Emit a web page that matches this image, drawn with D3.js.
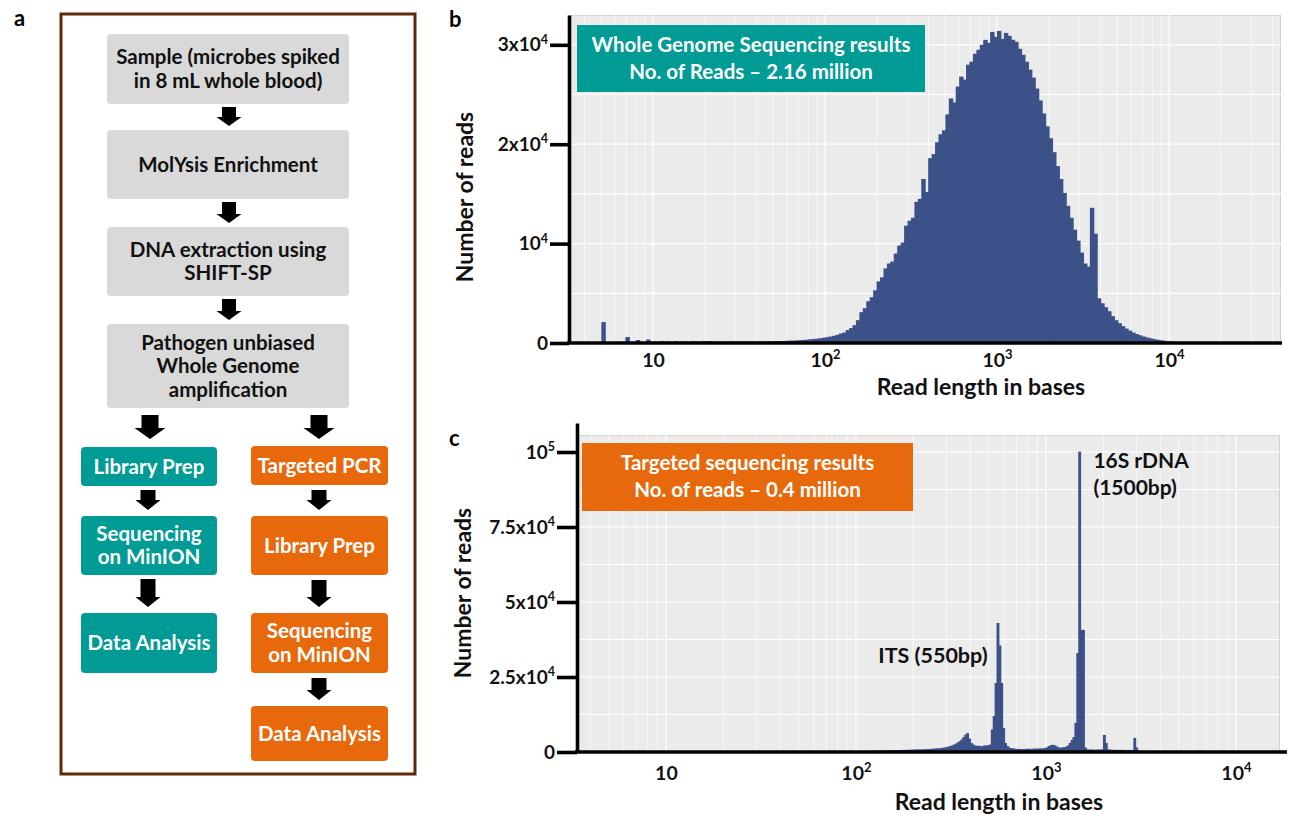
<!DOCTYPE html>
<html><head><meta charset="utf-8">
<script src="https://cdn.jsdelivr.net/npm/d3@7"></script>
<style>
body{margin:0;background:#fff}
svg{display:block}
text{font-family:Lato,"Open Sans",sans-serif;font-weight:700}
</style>
</head><body>
<svg id="fig" width="1290" height="815"></svg>
<script>
// ---------------- DATA ----------------
const sharedSteps = [["Sample (microbes spiked","in 8 mL whole blood)"],["MolYsis Enrichment"],["DNA extraction using","SHIFT-SP"],["Pathogen unbiased","Whole Genome","amplification"]];
const wgsSteps = [["Library Prep"],["Sequencing","on MinION"],["Data Analysis"]];
const targetedSteps = [["Targeted PCR"],["Library Prep"],["Sequencing","on MinION"],["Data Analysis"]];

// Panel b: whole genome sequencing read-length histogram (log10 bins)
const wgsBinStartLog = 0.50;
const wgsBinWidthLog = 0.02;
const wgsCounts = [
  0,0,0,0,0,0,0,0,0,0,
  2100,0,0,0,120,0,0,600,0,0,
  300,0,0,350,0,150,0,200,0,180,
  0,200,0,150,180,0,200,150,0,200,
  150,180,0,170,150,160,0,150,170,150,
  160,150,170,160,140,150,160,150,170,160,
  180,190,200,210,230,240,260,280,300,330,
  370,400,430,470,520,580,650,720,820,950,
  1050,1300,1500,1800,2300,3100,3500,4200,4600,5300,
  6200,6600,7500,8000,8200,9000,9800,10100,11800,12300,
  12600,14200,14500,16500,15200,18600,19000,20200,21000,21400,
  23000,24600,24200,25800,26800,26500,28000,28300,29100,29500,
  30000,30500,30200,31300,30800,31400,30600,31200,30900,30500,
  30300,29600,29000,28300,27500,26700,25600,24400,23100,21800,
  20600,19200,17800,16500,15100,13800,12600,11400,10300,9100,
  8000,7700,13600,11000,4500,4000,3600,3200,2700,2300,
  2000,1700,1450,1250,1050,900,780,650,560,480,
  400,330,280,230,190,150,120,100,80,70,
  60,50,45,40,35,30,25,22,20,18,
  15,14,12,10,9,8,7,6,5,5,
  4,4,3,3,2,2,2,1
];
const wgsYTicks = [0, 10000, 20000, 30000];
const wgsYLabels = [["0",""],["10","4"],["2x10","4"],["3x10","4"]];
const wgsBoxLines = ["Whole Genome Sequencing results","No. of Reads \u2013 2.16 million"];

// Panel c: targeted sequencing read-length histogram (log10 bins)
const tsBinStartLog = 0.50;
const tsBinWidthLog = 0.01;
const tsCounts = [
  0,0,0,0,0,0,0,0,0,0,0,0,0,0,0,0,0,0,0,300,
  0,0,0,0,0,0,0,150,0,0,0,0,0,0,100,0,0,0,0,0,
  100,0,0,0,0,100,0,0,0,0,100,0,0,0,100,0,0,100,0,0,
  0,100,0,0,100,0,0,100,0,0,100,0,100,0,0,100,0,100,0,0,
  100,0,100,0,100,0,100,0,100,0,100,0,100,0,100,0,100,0,100,0,
  100,100,90,100,110,100,90,100,100,110,100,90,100,110,100,100,90,100,110,100,
  100,90,110,100,100,120,100,110,100,120,
  100,120,110,150,110,130,160,140,170,150,180,160,190,170,200,210,190,220,240,230,
  260,280,300,290,320,340,330,360,380,370,400,420,410,440,460,480,500,520,550,580,
  600,620,650,630,680,700,720,700,750,780,800,820,850,830,880,900,950,980,1000,1050,
  1100,1150,1200,1250,1300,1400,1500,1600,1800,2000,2200,2500,2800,3200,3600,4200,5000,5800,6300,4500,
  3000,2500,2200,2000,2100,1900,2000,2200,2100,2300,2500,7500,12000,23000,43000,35500,23000,8000,3000,2000,
  1500,1300,1200,1100,1000,1050,1000,950,1000,1050,1100,1000,1050,1100,1150,1100,1200,1150,1250,1300,
  1600,2000,2300,2400,2200,1800,1500,1400,1500,1600,1800,2200,3000,4000,5000,9700,33000,100100,40700,40700,
  1500,900,800,850,800,750,800,850,800,900,5700,3000,900,800,750,700,750,700,680,700,
  700,650,680,700,650,600,4700,1500,500,400,350,300,300,250,200,200,150,150,120,100,
  100,100,80,80,60,60,50,50,40,40,30,30,30,20,20,20,20,10,10,10,
  10,8,8,6,6,5,5,4,4,3,3,3,2,2,2,2,1,1,1,1,0,0,0,0,0,0,0,0,0,0,0,0,0,0,0,0,0,0,0,0,0,0,0,0
];
const tsYTicks = [0, 25000, 50000, 75000, 100000];
const tsYLabels = [["0",""],["2.5x10","4"],["5x10","4"],["7.5x10","4"],["10","5"]];
const tsBoxLines = ["Targeted sequencing results","No. of reads \u2013 0.4 million"];
const tsPeakLabels = [{lines:["ITS (550bp)"], at:550}, {lines:["16S rDNA","(1500bp)"], at:1500}];

const xTicks = [10, 100, 1000, 10000];
const xLabels = [["10",""],["10","2"],["10","3"],["10","4"]];

// ---------------- STYLE ----------------
const TEAL = "#009b94", ORANGE = "#e8690b", GREYBOX = "#d9d9d9", BAR = "#3d5189", PANEL = "#ebebeb";

const svg = d3.select("#fig");

function supText(sel, base, exp, supSize) {
  sel.text(null);
  sel.append("tspan").text(base);
  if (exp) sel.append("tspan").attr("dy", -7.5).attr("font-size", supSize).text(exp);
}

// ---------------- PANEL A ----------------
svg.append("text").attr("x", 14).attr("y", 26).attr("font-size", 22).text("a");
svg.append("rect").attr("x", 61).attr("y", 14).attr("width", 354).attr("height", 760)
  .attr("fill", "none").attr("stroke", "#5e2a0c").attr("stroke-width", 3);

function drawBox(x0, x1, y0, y1, fill, lines, color) {
  svg.append("rect").attr("x", x0).attr("y", y0).attr("width", x1 - x0).attr("height", y1 - y0)
    .attr("rx", 4).attr("fill", fill);
  const cy = (y0 + y1) / 2, lh = 23.5;
  lines.forEach((l, i) => {
    svg.append("text").attr("x", (x0 + x1) / 2).attr("y", cy + (i - (lines.length - 1) / 2) * lh)
      .attr("dy", "0.35em").attr("text-anchor", "middle").attr("font-size", 20.5)
      .attr("fill", color).text(l);
  });
}
function drawArrow(cx, y0, y1, shaftW, headW, headH) {
  const p = [[cx - shaftW/2, y0],[cx + shaftW/2, y0],[cx + shaftW/2, y1 - headH],[cx + headW/2, y1 - headH],
             [cx, y1],[cx - headW/2, y1 - headH],[cx - shaftW/2, y1 - headH]];
  svg.append("path").attr("d", d3.line()(p) + "Z").attr("fill", "#000");
}
const sharedY = [[34,104],[130,199],[227,296],[324,408]];
sharedSteps.forEach((s, i) => {
  drawBox(107, 349, sharedY[i][0], sharedY[i][1], GREYBOX, s, "#111");
  if (i > 0) drawArrow(229, sharedY[i-1][1] + 3, sharedY[i][0] - 4, 14, 25, 9);
});
const wgsY = [[447,486],[516,575],[613,673]];
const tgY = [[446,485],[516,575],[613,673],[706,761]];
drawArrow(150, 415, 439, 17, 31, 11);
drawArrow(319, 415, 439, 17, 31, 11);
wgsSteps.forEach((s, i) => {
  drawBox(81, 217, wgsY[i][0], wgsY[i][1], TEAL, s, "#fff");
  if (i > 0) drawArrow(148, wgsY[i-1][1] + 4, wgsY[i][0] - 6, 15, 25, 10);
});
targetedSteps.forEach((s, i) => {
  drawBox(251, 388, tgY[i][0], tgY[i][1], ORANGE, s, "#fff");
  if (i > 0) drawArrow(319, tgY[i-1][1] + 5, tgY[i][0] - 6, 15, 25, 10);
});

// ---------------- HISTOGRAM PANELS ----------------
function histPanel(o) {
  const x = d3.scaleLog().domain(o.xDomain).range([o.left, o.right]);
  const y = d3.scaleLinear().domain(o.yDomain).range([o.bottom, o.axisTop]);
  const g = svg.append("g");
  // background
  g.append("rect").attr("x", o.left).attr("y", o.bgTop).attr("width", o.right - o.left).attr("height", o.bottom - o.bgTop).attr("fill", PANEL);
  g.append("line").attr("x1", o.left).attr("x2", o.right).attr("y1", o.bgTop + 0.5).attr("y2", o.bgTop + 0.5).attr("stroke", "#d6d6d6");
  g.append("line").attr("x1", o.right - 0.5).attr("x2", o.right - 0.5).attr("y1", o.bgTop).attr("y2", o.bottom).attr("stroke", "#cfcfcf");
  // grid
  const vgrid = [];
  for (let e = 0; e <= 5; e++) for (let k = 1; k <= 9; k++) {
    const v = k * Math.pow(10, e);
    if (v > o.xDomain[0] && v < o.xDomain[1]) vgrid.push(v);
  }
  g.selectAll(".vg").data(vgrid).join("line")
    .attr("x1", d => x(d)).attr("x2", d => x(d)).attr("y1", o.bgTop).attr("y2", o.bottom)
    .attr("stroke", "#fff").attr("stroke-width", d => (Math.log10(d) % 1 === 0 ? 1.4 : 0.8)).attr("opacity", 0.85);
  g.selectAll(".hg").data(o.hGrid).join("line")
    .attr("x1", o.left).attr("x2", o.right).attr("y1", d => y(d)).attr("y2", d => y(d))
    .attr("stroke", "#fff").attr("stroke-width", 1.2);
  // bars
  const bars = o.counts.map((c, i) => ({
    lo: Math.pow(10, o.binStart + i * o.binWidth),
    hi: Math.pow(10, o.binStart + (i + 1) * o.binWidth),
    c
  })).filter(d => d.c > 0 && d.lo >= o.xDomain[0] && d.hi <= o.xDomain[1] * 1.0001);
  g.selectAll(".bar").data(bars).join("rect")
    .attr("x", d => x(d.lo)).attr("width", d => Math.max(0.8, x(d.hi) - x(d.lo) + 1))
    .attr("y", d => y(d.c)).attr("height", d => o.bottom - y(d.c)).attr("fill", BAR);
  // y axis
  const ya = g.append("g").attr("transform", `translate(${o.left},0)`)
    .call(d3.axisLeft(y).tickValues(o.yTicks).tickSize(o.tickLen).tickSizeOuter(0).tickPadding(2));
  ya.select(".domain").attr("stroke", "#000").attr("stroke-width", 3.6);
  ya.selectAll(".tick line").attr("stroke", "#000").attr("stroke-width", 3.6);
  ya.selectAll(".tick text").attr("font-size", 19).attr("fill", "#111").attr("font-family", "Lato")
    .each(function(d, i) { supText(d3.select(this), o.yLabels[i][0], o.yLabels[i][1], 12.5); });
  // x axis
  const xa = g.append("g").attr("transform", `translate(0,${o.bottom})`)
    .call(d3.axisBottom(x).tickValues(xTicks).tickSize(0).tickSizeOuter(0).tickPadding(o.xPad));
  xa.select(".domain").attr("stroke", "#000").attr("stroke-width", 3.6)
    .attr("d", `M${o.left - 2},0H${o.axisRight}`);
  xa.selectAll(".tick text").attr("font-size", 19.5).attr("fill", "#111").attr("font-family", "Lato")
    .each(function(d, i) { supText(d3.select(this), xLabels[i][0], xLabels[i][1], 13); });
  // titles
  svg.append("text").attr("transform", `translate(${o.yTitleX},${o.yTitleY}) rotate(-90)`)
    .attr("text-anchor", "middle").attr("font-size", 23).attr("fill", "#111").text("Number of reads");
  svg.append("text").attr("x", o.xTitleX).attr("y", o.xTitleY).attr("text-anchor", "middle")
    .attr("font-size", 23).attr("fill", "#111").text("Read length in bases");
  // info box
  g.append("rect").attr("x", o.box[0]).attr("y", o.box[1]).attr("width", o.box[2] - o.box[0])
    .attr("height", o.box[3] - o.box[1]).attr("fill", o.boxColor);
  o.boxLines.forEach((l, i) => {
    g.append("text").attr("x", (o.box[0] + o.box[2]) / 2).attr("y", o.box[1] + 27 + i * 27)
      .attr("text-anchor", "middle").attr("font-size", 20.5).attr("fill", "#fff").text(l);
  });
  return {x, y, g};
}

svg.append("text").attr("x", 449).attr("y", 27).attr("font-size", 22).text("b");
histPanel({
  left: 569, right: 1281, bgTop: 15, axisTop: 15, bottom: 343, axisRight: 1282,
  xDomain: [Math.pow(10, 0.512), Math.pow(10, 4.651)], yDomain: [0, 33000],
  counts: wgsCounts, binStart: wgsBinStartLog, binWidth: wgsBinWidthLog,
  yTicks: wgsYTicks, yLabels: wgsYLabels, tickLen: 19, xPad: 10,
  hGrid: [5000, 10000, 15000, 20000, 25000, 30000],
  yTitleX: 473, yTitleY: 197, xTitleX: 981, xTitleY: 395,
  box: [577, 25, 925, 92], boxColor: TEAL, boxLines: wgsBoxLines
});

svg.append("text").attr("x", 449).attr("y", 446).attr("font-size", 22).text("c");
const pc = histPanel({
  left: 577, right: 1280, bgTop: 435, axisTop: 423, bottom: 752, axisRight: 1287,
  xDomain: [Math.pow(10, 0.532), Math.pow(10, 4.232)], yDomain: [0, 109667],
  counts: tsCounts, binStart: tsBinStartLog, binWidth: tsBinWidthLog,
  yTicks: tsYTicks, yLabels: tsYLabels, tickLen: 20, xPad: 14,
  hGrid: [12500, 25000, 37500, 50000, 62500, 75000, 87500, 100000],
  yTitleX: 471, yTitleY: 593, xTitleX: 999, xTitleY: 810,
  box: [582, 443, 913, 511], boxColor: ORANGE, boxLines: tsBoxLines
});
// peak annotations
svg.append("text").attr("x", pc.x(tsPeakLabels[0].at) - 9).attr("y", 663).attr("text-anchor", "end")
  .attr("font-size", 21.5).attr("fill", "#111").text(tsPeakLabels[0].lines[0]);
tsPeakLabels[1].lines.forEach((l, i) => {
  svg.append("text").attr("x", pc.x(tsPeakLabels[1].at) + 14).attr("y", 468 + i * 27)
    .attr("font-size", 21).attr("fill", "#111").text(l);
});
</script>
</body></html>
